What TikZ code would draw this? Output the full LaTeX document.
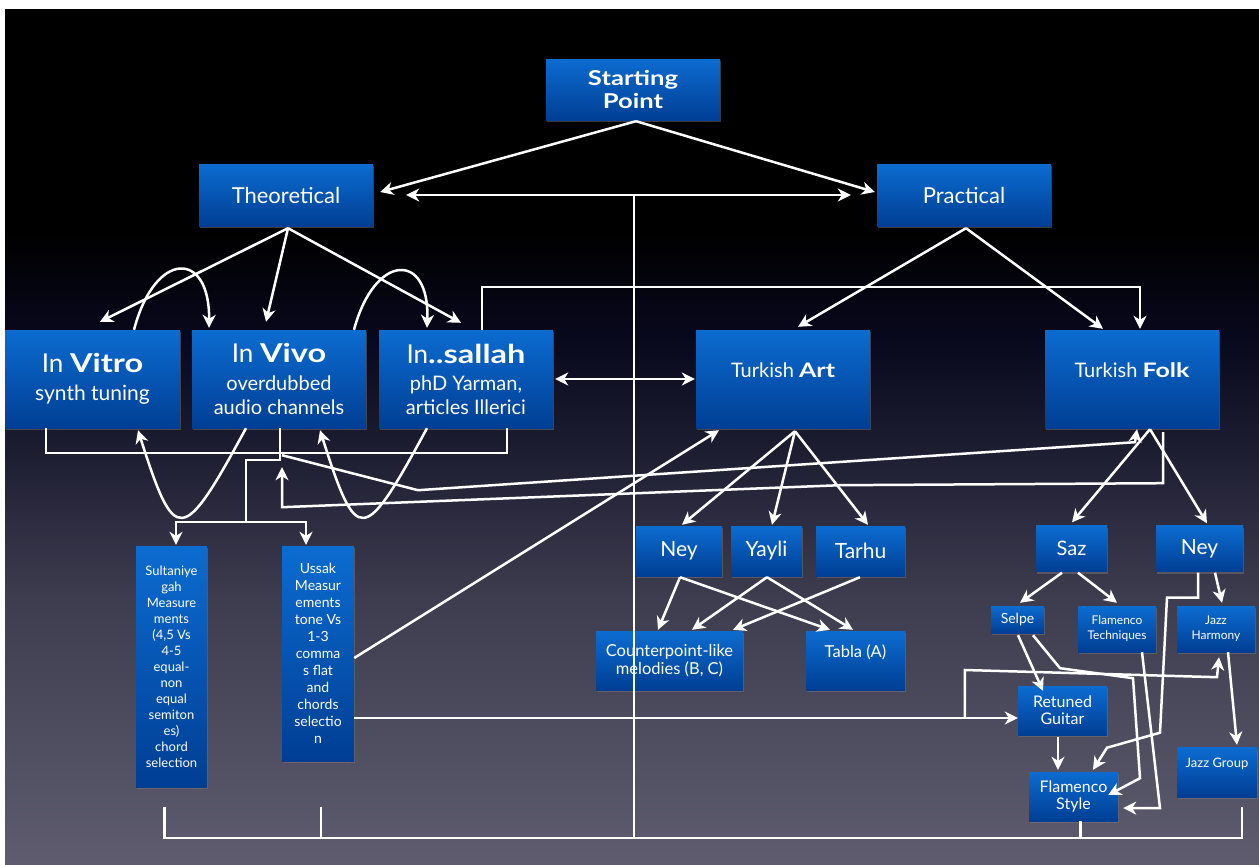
\documentclass[tikz,border=0pt]{standalone}
\usepackage{fontspec}
\setmainfont{Lato}[BoldFeatures={FakeStretch=1.25}]
\usetikzlibrary{arrows.meta, calc, shadows}
\definecolor{boxtop}{RGB}{12,108,208}
\definecolor{boxbot}{RGB}{0,62,148}
\definecolor{bgbot}{RGB}{94,92,110}
\definecolor{bglow}{RGB}{62,61,80}
\definecolor{bgmid}{RGB}{30,30,50}
\definecolor{bgtop}{RGB}{8,8,28}
\pgfdeclareverticalshading{slidebg}{100bp}{color(0bp)=(bgbot); color(25bp)=(bgbot); color(40.5bp)=(bglow); color(49bp)=(bgmid); color(56bp)=(bgtop); color(62bp)=(black); color(100bp)=(black)}
\newcommand{\fsz}[2]{\fontsize{#1}{#2}\selectfont}

\begin{document}
\begin{tikzpicture}[x=1pt, y=-1pt,
  box/.style={rectangle, inner sep=0pt, align=center, text=white, top color=boxtop, bottom color=boxbot,
    drop shadow={opacity=0.45, shadow xshift=1pt, shadow yshift=-2pt}},
  sz/.style 2 args={minimum width=#1pt, minimum height=#2pt},
  wire/.style={white, line width=2.5pt},
  >={Stealth[length=13pt, width=13pt, inset=4pt]}]
  \useasboundingbox (0,0) rectangle (1259,865);
  \fill[white] (0,0) rectangle (1259,865);
  \shade[shading=slidebg] (5,9) rectangle (1259,865);

  % boxes
  \node[box, sz={174}{61}, font=\bfseries\fsz{20.5}{23}] (start) at (633,89.5) {Starting\\Point};
  \node[box, sz={174}{62}, font=\fsz{22}{26}] (theo) at (286,195) {Theoretical};
  \node[box, sz={174}{62}, font=\fsz{22}{26}] (prac) at (964,195) {Practical};
  \node[box, sz={175}{98}, font=\fsz{21}{28}] (vitro) at (92.5,379) {{\fsz{26}{28}In \textbf{Vitro}}\\synth tuning};
  \node[box, sz={174}{98}, font=\fsz{20}{24}] (vivo) at (279,379) {{\fsz{26}{28}In \textbf{Vivo}}\\[4pt]overdubbed\\audio channels};
  \node[box, sz={174}{98}, font=\fsz{20}{24}] (sallah) at (466,379) {{\fsz{26}{28}In\textbf{..sallah}}\\[3pt]phD Yarman,\\articles Illerici};
  \node[box, sz={174}{98}, font=\fsz{20}{24}, text height=15pt, text depth=19pt] (tart) at (783,379) {Turkish \textbf{Art}};
  \node[box, sz={174}{98}, font=\fsz{20}{24}, text height=15pt, text depth=19pt] (tfolk) at (1132,379) {Turkish \textbf{Folk}};
  \node[box, sz={71}{241}, font=\fsz{13}{16}] (sult) at (171.5,666.5)
    {Sultaniye\\gah\\Measure\\ments\\(4,5 Vs\\4-5\\equal-\\non\\equal\\semiton\\es)\\chord\\selection};
  \node[box, sz={72}{215}, font=\fsz{14}{17}] (ussak) at (318,653.5)
    {Ussak\\Measur\\ements\\tone Vs\\1-3\\comma\\s flat\\and\\chords\\selectio\\n};
  \node[box, sz={86}{50}, font=\fsz{21}{24}] (aney) at (679,551) {Ney};
  \node[box, sz={71}{50}, font=\fsz{21}{24}] (yayli) at (766.5,551) {Yayli};
  \node[box, sz={89}{50}, font=\fsz{21}{24}] (tarhu) at (860.5,551) {Tarhu};
  \node[box, sz={147}{59}, font=\fsz{16.5}{18}] (counter) at (669.5,660.5) {Counterpoint-like\\melodies (B, C)};
  \node[box, sz={99}{59}, font=\fsz{16.5}{18}, text height=12pt, text depth=19pt] (tabla) at (855.5,660.5) {Tabla (A)};
  \node[box, sz={71}{46}, font=\fsz{20}{24}] (saz) at (1071.5,548.5) {Saz};
  \node[box, sz={87}{46}, font=\fsz{21}{24}] (fney) at (1199.5,548.5) {Ney};
  \node[box, sz={53}{27}, font=\fsz{14}{16}] (selpe) at (1017.5,619.5) {Selpe};
  \node[box, sz={78}{46}, font=\fsz{12}{15}] (ftech) at (1117,629) {Flamenco\\Techniques};
  \node[box, sz={78}{46}, font=\fsz{12}{15}] (jazzh) at (1216,629) {Jazz\\Harmony};
  \node[box, sz={89}{49}, font=\fsz{16}{17}] (retuned) at (1062.5,710.5) {Retuned\\Guitar};
  \node[box, sz={89}{49}, font=\fsz{16}{17}] (fstyle) at (1073.5,796.5) {Flamenco\\Style};
  \node[box, sz={80}{50}, font=\fsz{13}{16}, text height=10pt, text depth=20pt] (jazzg) at (1217,772) {Jazz Group};

  % start and the long trunk
  \draw[wire, ->] ($(start.south)+(3,1)$) -- ($(theo.east)+(7,-3)$);
  \draw[wire, ->] ($(start.south)+(3,1)$) -- ($(prac.west)+(-2,-3)$);
  \draw[wire, <->] ($(theo.east)+(33,0)$) -- ($(prac.west)+(-26,0)$);
  \coordinate (trunk) at ($(start.south |- theo.east)+(1,0)$);
  \coordinate (base) at ($(sult.south)+(-7,51)$);
  \draw[wire] (trunk) -- (trunk |- base);
  \draw[wire] ($(sult.south)+(-7,20)$) -- (base) -- ($(jazzg.south)+(25,41)$) -- ++(0,-31);
  \draw[wire] ($(ussak.south)+(3,46)$) -- ($(ussak.south)+(3,77)$);
  \draw[wire] ($(fstyle.south)+(7,0)$) -- ($(fstyle.south)+(7,17)$);

  % theoretical side
  \draw[wire, ->] ($(theo.south)+(2,2)$) -- ($(vitro.north)+(7.5,-8)$);
  \draw[wire, ->] ($(theo.south)+(2,2)$) -- ($(vivo.north)+(-13,-8)$);
  \draw[wire, ->] ($(theo.south)+(2,2)$) -- ($(sallah.north)+(-5,-7)$);
  \draw[wire, ->] ($(vitro.north)+(41.5,0)$) .. controls +(21,-80) and +(1,-78) .. ($(vivo.north)+(-70,-2)$);
  \draw[wire, ->] ($(vivo.north)+(75,0)$) .. controls +(21,-78) and +(3,-76) .. ($(sallah.north)+(-39,-2)$);
  \draw[wire, ->] ($(vivo.south)+(-33,0)$) .. controls +(-64,118) and +(37,116) .. ($(vitro.south)+(45.5,2)$);
  \draw[wire, ->] ($(sallah.south)+(-39,0)$) .. controls +(-64,118) and +(37,116) .. ($(vivo.south)+(41,2)$);
  \draw[wire] ($(vitro.south)+(-46.5,0)$) -- ++(0,25) -| ($(sallah.south)+(41,0)$);
  \coordinate (split) at ($(vivo.south)+(-33,94)$);
  \draw[wire] ($(vivo.south)+(1,0)$) -- ++(0,32) -| (split);
  \draw[wire, ->] (split) -| ($(sult.north)+(4.5,-1)$);
  \draw[wire, ->] (split) -| ($(ussak.north)+(-12,-1)$);
  \draw[wire, ->] ($(vivo.south)+(3,27)$) -- ++(136,35) -- ($(tfolk.south)+(3,14)$) -- ($(tfolk.south)+(5,1)$);
  \draw[wire, ->] ($(tfolk.south)+(31,4)$) -- ++(0,51) -- ++(-323,2) -- ($(vivo.south)+(3,79)$) -- ($(vivo.south)+(3,39)$);

  % practical side
  \draw[wire, ->] ($(prac.south)+(2,2)$) -- ($(tart.north)+(15,-3)$);
  \draw[wire, ->] ($(prac.south)+(2,2)$) -- ($(tfolk.north)+(-29,-1)$);
  \draw[wire, ->] ($(sallah.north)+(16,0)$) -- ++(0,-43) -| ($(tfolk.north)+(8,-1)$);
  \draw[wire, <->] ($(sallah.east)+(2,0)$) -- ($(tart.west)+(-1,0)$);
  \draw[wire, ->] ($(ussak.east)+(0,4.5)$) -- ($(tart.south)+(-64,2)$);
  \draw[wire, ->] ($(ussak.east)+(0,64.5)$) -- ($(retuned.west)+(0,7.5)$);
  \coordinate (fork) at ($(retuned.west)+(-53,7.5)$);
  \draw[wire, ->] (fork) -- ++(0,-48) -- ($(jazzh.south)+(1,25)$) -- ($(jazzh.south)+(3,5)$);

  % art instruments
  \foreach \n/\dx in {aney/3, yayli/5.5, tarhu/7.5}
    \draw[wire, ->] ($(tart.south)+(12,3)$) -- ($(\n.north)+(\dx,-1)$);
  \draw[wire, ->] ($(aney.south)+(1,1)$) -- ($(counter.north)+(-11.5,-1)$);
  \draw[wire, ->] ($(aney.south)+(1,1)$) -- ($(tabla.north)+(-25.5,-1)$);
  \draw[wire, ->] ($(yayli.south)+(0.5,1)$) -- ($(counter.north)+(22.5,-1)$);
  \draw[wire, ->] ($(yayli.south)+(0.5,1)$) -- ($(tabla.north)+(-2.5,-1)$);
  \draw[wire, ->] ($(tarhu.south)+(-0.5,1)$) -- ($(counter.north)+(63.5,-1)$);

  % folk instruments
  \draw[wire, ->] ($(tfolk.south)+(18,1)$) -- ($(saz.north)+(0.5,-3)$);
  \draw[wire, ->] ($(tfolk.south)+(18,1)$) -- ($(fney.north)+(7.5,-2)$);
  \draw[wire, ->] ($(saz.south)+(-9.5,1)$) -- ($(selpe.north)+(2.5,-3)$);
  \draw[wire, ->] ($(saz.south)+(6.5,1)$) -- ($(ftech.north)+(0,-3)$);
  \draw[wire, ->] ($(fney.south)+(15.5,1)$) -- ($(jazzh.north)+(6,-3)$);
  \draw[wire, ->] ($(fney.south)+(-1.5,1)$) -- ++(0,25) -- ++(-31,0) -- ++(-7,135) -- ++(-53,15) -- ($(fstyle.north)+(19.5,-2)$);
  \draw[wire, ->] ($(selpe.south)+(0.5,2)$) -- ($(retuned.north)+(-19.5,5)$);
  \draw[wire, ->] ($(selpe.south)+(15.5,2)$) -- ++(27,33) -- ++(73,10) -- ++(7,100) -- ($(fstyle.east)+(-10,-1.5)$);
  \draw[wire, ->] ($(ftech.south)+(25,0)$) -- ++(18,156) -- ($(fstyle.east)+(5,11.5)$);
  \draw[wire, ->] ($(jazzh.south)+(12,0)$) -- ($(jazzg.north)+(20,-2)$);
  \draw[wire, ->] ($(retuned.south)+(-4.5,2)$) -- ($(fstyle.north)+(-15.5,-2)$);
\end{tikzpicture}
\end{document}
